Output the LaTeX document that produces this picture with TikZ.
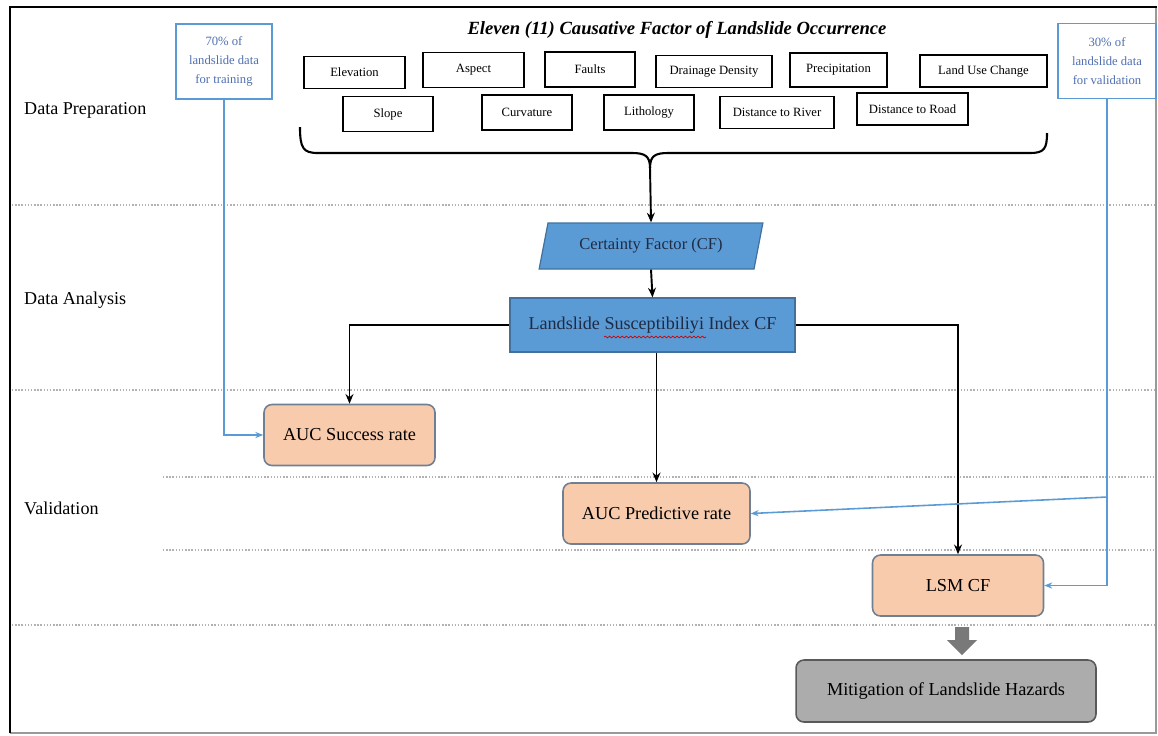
\documentclass[tikz,border=0pt]{standalone}
\usepackage{fontspec}
\setmainfont{Liberation Serif}
\usetikzlibrary{shapes.geometric,arrows.meta,decorations.pathmorphing}

\definecolor{cfblue}{HTML}{5B9BD5}
\definecolor{cfedge}{HTML}{41719C}
\definecolor{navy}{HTML}{1F2A44}
\definecolor{peach}{HTML}{F8CBAD}
\definecolor{slate}{HTML}{6F7F94}
\definecolor{feedblue}{HTML}{5B9BD5}
\definecolor{feedtext}{HTML}{4F6FB0}

\begin{document}
\begin{tikzpicture}[x=0.02cm,y=-0.02cm,
		stage/.style={anchor=west,font=\fontsize{10.3}{12}\selectfont},
		factor/.style={draw,line width=0.9pt,minimum height=0.64cm,inner sep=1pt,font=\fontsize{7.2}{8.6}\selectfont},
		split/.style={draw=feedblue,line width=0.8pt,text=feedtext,align=center,minimum height=1.5cm,inner sep=1pt,font=\fontsize{7.2}{10.6}\selectfont},
		proc/.style={draw=cfedge,fill=cfblue,line width=0.7pt,text=navy},
		result/.style={draw=slate,fill=peach,line width=0.9pt,rounded corners=4.5pt,minimum width=3.42cm,minimum height=1.22cm,font=\fontsize{10.4}{12}\selectfont},
		flow/.style={-{Stealth[length=5.5pt,width=4.5pt]},line width=1.1pt},
		feed/.style={-{Stealth[length=4.5pt,width=3.5pt]},draw=feedblue,line width=0.9pt},
		sep/.style={draw=gray!60,densely dotted,line width=0.8pt}]
	\useasboundingbox (0,0) rectangle (1158,735);

	% frame and stage separators
	\draw[gray!80,line width=0.6pt] (1156,7) -- (1156,733) -- (10,733);
	\draw[line width=1.6pt] (10,733) -- (10,7) -- (1157,7);
	\foreach \y/\x in {205/12, 390/12, 477/163, 550/163, 625/12}
		\draw[sep] (\x,\y) -- (1155,\y);

	% stages
	\node[stage] (prep) at (18,110) {Data Preparation};
	\node[stage] (anal) at (18,300) {Data Analysis};
	\node[stage] (vali) at (18,508) {Validation};

	% causative factors
	\node[font=\fontsize{10.6}{12}\selectfont\bfseries\itshape] (title) at (677,30) {Eleven (11) Causative Factor of Landslide Occurrence};
	\node[factor,minimum width=2.02cm] (elev) at (354.5,72.5) {Elevation};
	\node[factor,minimum width=2.02cm,minimum height=0.7cm] (aspe) at (473.5,70) {Aspect};
	\node[factor,minimum width=1.80cm,minimum height=0.7cm] (faul) at (590,69.5) {Faults};
	\node[factor,minimum width=2.32cm] (drai) at (714,71.5) {Drainage Density};
	\node[factor,minimum width=1.94cm,minimum height=0.68cm] (prec) at (838.5,70) {Precipitation};
	\node[factor,minimum width=2.54cm] (luse) at (983.5,71) {Land Use Change};
	\node[factor,minimum width=1.80cm,minimum height=0.7cm] (slop) at (388,114) {Slope};
	\node[factor,minimum width=1.80cm,minimum height=0.7cm] (curv) at (527,112.5) {Curvature};
	\node[factor,minimum width=1.80cm,minimum height=0.7cm] (lith) at (649,112.5) {Lithology};
	\node[factor,minimum width=2.28cm] (driv) at (777,112.5) {Distance to River};
	\node[factor,minimum width=2.22cm] (droa) at (912.5,109) {Distance to Road};

	\draw[line width=1.2pt] (300,127) .. controls (300,148) and (303,153) .. (318,153) -- (632,153) .. controls (645,153) and (650,156) .. (650,168);
	\draw[line width=1.2pt] (1047,133) .. controls (1047,149) and (1044,153) .. (1030,153) -- (668,153) .. controls (655,153) and (650,156) .. (650,168);
	\coordinate (tip) at (650,168);

	% data split
	\node[split,minimum width=1.92cm] (train) at (224,61.5) {70\% of\\landslide data\\for training};
	\node[split,minimum width=1.96cm] (valid) at (1107,61) {30\% of\\landslide data\\for validation};

	% analysis
	\node[proc,shape=trapezium,trapezium left angle=76,trapezium right angle=104,trapezium stretches=true,
		minimum width=4.5cm,minimum height=0.92cm,font=\fontsize{9.4}{11}\selectfont] (cf) at (651,246) {Certainty Factor (CF)};
	\node[proc,minimum width=5.7cm,minimum height=1.08cm,font=\fontsize{10.3}{12}\selectfont] (lsi) at (652.5,325) {Landslide Susceptibiliyi Index CF};
	\draw[red!80!black,line width=0.4pt,decorate,decoration={snake,amplitude=0.5pt,segment length=2.4pt}] (604,337) -- (706,337);

	% validation and output
	\node[result] (success) at (349.5,435) {AUC Success rate};
	\node[result,minimum width=3.74cm] (predictive) at (656.5,513.5) {AUC Predictive rate};
	\node[result] (lsm) at (958,585.5) {LSM CF};
	\node[draw=gray!70!black,fill=gray!65,line width=0.9pt,rounded corners=4.5pt,minimum width=6cm,minimum height=1.24cm,
		font=\fontsize{10.4}{12}\selectfont] (mitig) at (946,691) {Mitigation of Landslide Hazards};
	\fill[gray!95!black] (955,627) -- (969,627) -- (969,640) -- (977,640) -- (962,655) -- (947,640) -- (955,640) -- cycle;

	% connectors
	\draw[flow] (tip) -- (cf.north);
	\draw[flow] (cf.south) -- (lsi.north);
	\draw[flow] (lsi.west) -| (success.north);
	\draw[flow] (predictive.north |- lsi.south) -- (predictive.north);
	\draw[flow] (lsi.east) -| (lsm.north);
	\draw[feed] (train.south) |- (success.west);
	\draw[feed] (valid.south) |- (lsm.east);
	\coordinate (fork) at (valid.south |- 0,497);
	\draw[feed] (fork) -- (predictive.east);
\end{tikzpicture}
\end{document}
